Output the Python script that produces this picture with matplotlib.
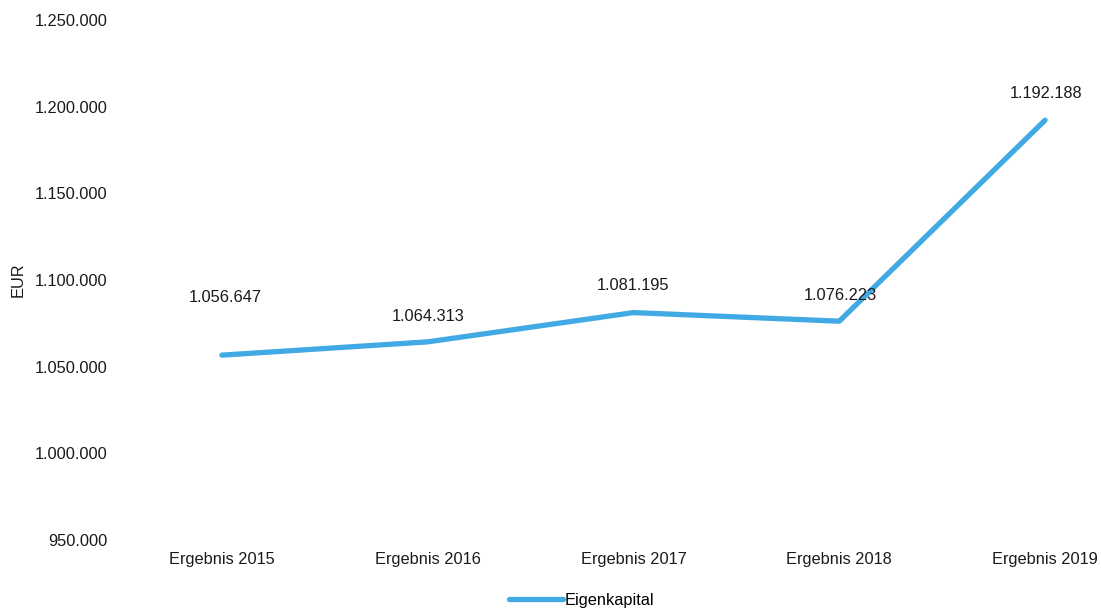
import matplotlib
matplotlib.use("Agg")
import matplotlib.pyplot as plt
from matplotlib.lines import Line2D

categories = ["Ergebnis 2015", "Ergebnis 2016", "Ergebnis 2017", "Ergebnis 2018", "Ergebnis 2019"]
eigenkapital = [1056647, 1064313, 1081195, 1076223, 1192188]
point_labels = ["1.056.647", "1.064.313", "1.081.195", "1.076.223", "1.192.188"]
yticks = [950000, 1000000, 1050000, 1100000, 1150000, 1200000, 1250000]

def de_fmt(v):
    return f"{v:,.0f}".replace(",", ".")

plt.rcParams['font.family'] = ['Liberation Sans', 'DejaVu Sans']
color = "#41A9E3"
tc = "#1a1a1a"
fs = 11.8
W, H = 1101, 612
fig = plt.figure(figsize=(W/100, H/100), dpi=100)
left, right, top, bottom = 119, 1101, 20, 540
ax = fig.add_axes([left/W, 1-bottom/H, (right-left)/W, (bottom-top)/H])

x = list(range(len(categories)))
ax.plot(x, eigenkapital, color=color, lw=3.8, solid_capstyle='round', solid_joinstyle='round')
ax.set_xlim(-0.5, 4 + (1101-1045)/206)
ax.set_ylim(950000, 1250000)
ax.set_yticks(yticks)
ax.set_yticklabels([de_fmt(v) for v in yticks], fontsize=fs, color=tc)
ax.set_xticks(x)
ax.set_xticklabels(categories, fontsize=fs, color=tc)
ax.tick_params(length=0, pad=8.5)
for s in ax.spines.values():
    s.set_visible(False)
ax.set_ylabel("EUR", fontsize=fs, color=tc, va='center')
ax.yaxis.set_label_coords(-0.103, 0.5)

offsets = [(3, 58), (0, 25), (0, 27), (1, 26), (1, 27)]
for xi, yi, lab, (dx, dy) in zip(x, eigenkapital, point_labels, offsets):
    ax.annotate(lab, (xi, yi), xytext=(dx, dy), textcoords='offset pixels',
                ha='center', va='center', fontsize=fs, color=tc)

handle = Line2D([0], [0], color=color, lw=3.8, solid_capstyle='round')
fig.legend([handle], ["Eigenkapital"], loc='center', bbox_to_anchor=(582/W, 1-600/H),
           frameon=False, fontsize=fs, handlelength=3.3, handletextpad=0.1)

fig.savefig("out.png", dpi=100)
